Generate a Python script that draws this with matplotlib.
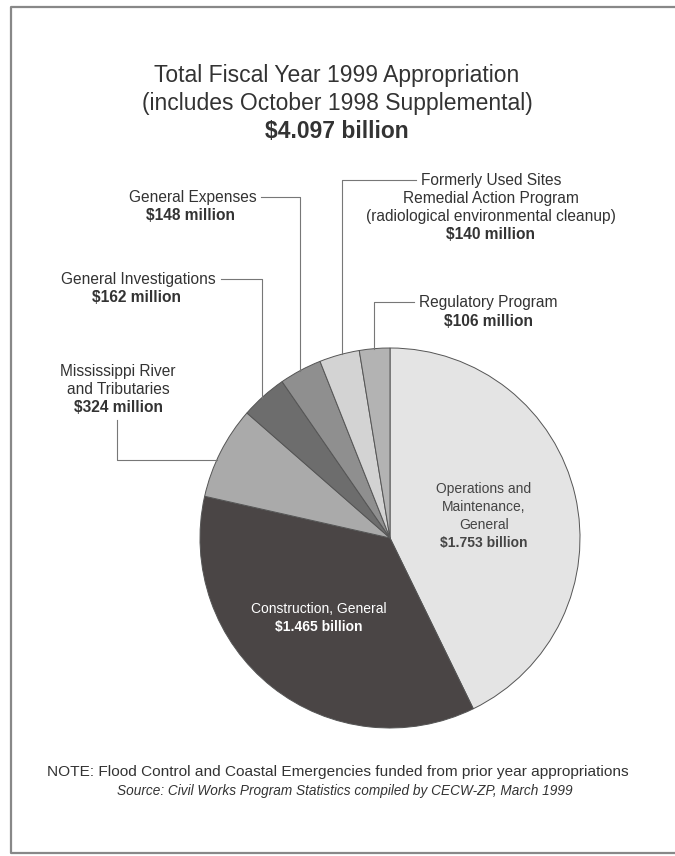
"""
FY1999 Civil Works appropriation pie (Corps of Engineers)
"""
import matplotlib
matplotlib.use("Agg")
import matplotlib.pyplot as plt
import numpy as np

# ── Data ─────────────────────────────────────────────────────────────────────
programs = [
    "Operations and Maintenance, General",
    "Construction, General",
    "Mississippi River and Tributaries",
    "General Investigations",
    "General Expenses",
    "Formerly Used Sites Remedial Action Program",
    "Regulatory Program",
]
amounts_musd = [1753, 1465, 324, 162, 148, 140, 106]
shades = ["#e4e4e4", "#4a4545", "#aaaaaa", "#6d6d6d", "#8f8f8f", "#d3d3d3", "#b3b3b3"]

W, H = 675, 856
CX, CY, R = 390, 538, 190          # pie centre / radius in pixels (from top)
TXT = "#333333"
LINE = "#777777"


def py(y):
    # pixel row (from top) -> data y
    return H - y


plt.rcParams["font.family"] = ["Liberation Sans", "DejaVu Sans"]

fig = plt.figure(figsize=(W / 100, H / 100), dpi=100)
ax = fig.add_axes([0, 0, 1, 1])

ax.pie(amounts_musd, colors=shades, startangle=90, counterclock=False,
       center=(CX, py(CY)), radius=R, frame=True,
       wedgeprops=dict(edgecolor="#555555", linewidth=0.7))
ax.set_xlim(0, W)
ax.set_ylim(0, H)
ax.set_aspect("equal")
ax.axis("off")

# frame round the page
ax.plot([W + 5, 11, 11, W + 5], [py(7), py(7), py(853), py(853)],
        color="#888888", lw=1.6, clip_on=False)


def lines(x, y0, rows, step, bold_last=True, **kw):
    # stack of centred text rows, last one bold (the dollar figure)
    for i, row in enumerate(rows):
        w = "bold" if (bold_last and i == len(rows) - 1) else "normal"
        ax.text(x, py(y0 + i * step), row, ha="center", va="center",
                fontweight=w, **kw)


# ── Titles ───────────────────────────────────────────────────────────────────
lines(337, 75, ["Total Fiscal Year 1999 Appropriation",
                "(includes October 1998 Supplemental)",
                "$4.097 billion"], 28, fontsize=16.5, color=TXT)


def edge_y(x):
    return CY - np.sqrt(R ** 2 - (x - CX) ** 2)


def edge_x_left(y):
    return CX - np.sqrt(R ** 2 - (y - CY) ** 2)


# ── Outside labels with leader lines ─────────────────────────────────────────
fs = 11.2
# General Expenses
ax.text(257, py(197), "General Expenses", ha="right", va="center", fontsize=fs, color=TXT)
ax.text(190, py(215), "$148 million", ha="center", va="center", fontsize=fs,
        fontweight="bold", color=TXT)
ax.plot([261, 300, 300], [py(197), py(197), py(edge_y(300))], color=LINE, lw=0.8)

# General Investigations
ax.text(216, py(279), "General Investigations", ha="right", va="center", fontsize=fs, color=TXT)
ax.text(137, py(297), "$162 million", ha="center", va="center", fontsize=fs,
        fontweight="bold", color=TXT)
ax.plot([221, 262, 262], [py(279), py(279), py(edge_y(262))], color=LINE, lw=0.8)

# Mississippi River and Tributaries
lines(118, 371, ["Mississippi River", "and Tributaries", "$324 million"], 18.3,
      fontsize=fs, color=TXT)
ax.plot([117, 117, edge_x_left(460)], [py(420), py(460), py(460)], color=LINE, lw=0.8)

# FUSRAP
lines(491, 180, ["Formerly Used Sites", "Remedial Action Program",
                 "(radiological environmental cleanup)", "$140 million"], 18.3,
      fontsize=fs, color=TXT)
ax.plot([416, 342, 342], [py(180), py(180), py(edge_y(342))], color=LINE, lw=0.8)

# Regulatory Program
lines(488, 302, ["Regulatory Program", "$106 million"], 19, fontsize=fs, color=TXT)
ax.plot([414, 374, 374], [py(302), py(302), py(edge_y(374))], color=LINE, lw=0.8)

# ── Inside labels ────────────────────────────────────────────────────────────
fs_in = 10
lines(484, 489, ["Operations and", "Maintenance,", "General", "$1.753 billion"], 18,
      fontsize=fs_in, color="#444444")
lines(319, 609, ["Construction, General", "$1.465 billion"], 18,
      fontsize=fs_in, color="white")

# ── Footnotes ────────────────────────────────────────────────────────────────
ax.text(338, py(772), "NOTE: Flood Control and Coastal Emergencies funded from prior year appropriations",
        ha="center", va="center", fontsize=11.1, color=TXT)
ax.text(345, py(791), "Source: Civil Works Program Statistics compiled by CECW-ZP, March 1999",
        ha="center", va="center", fontsize=9.8, style="italic", color=TXT)

fig.savefig("out.png", dpi=100, facecolor="white")
